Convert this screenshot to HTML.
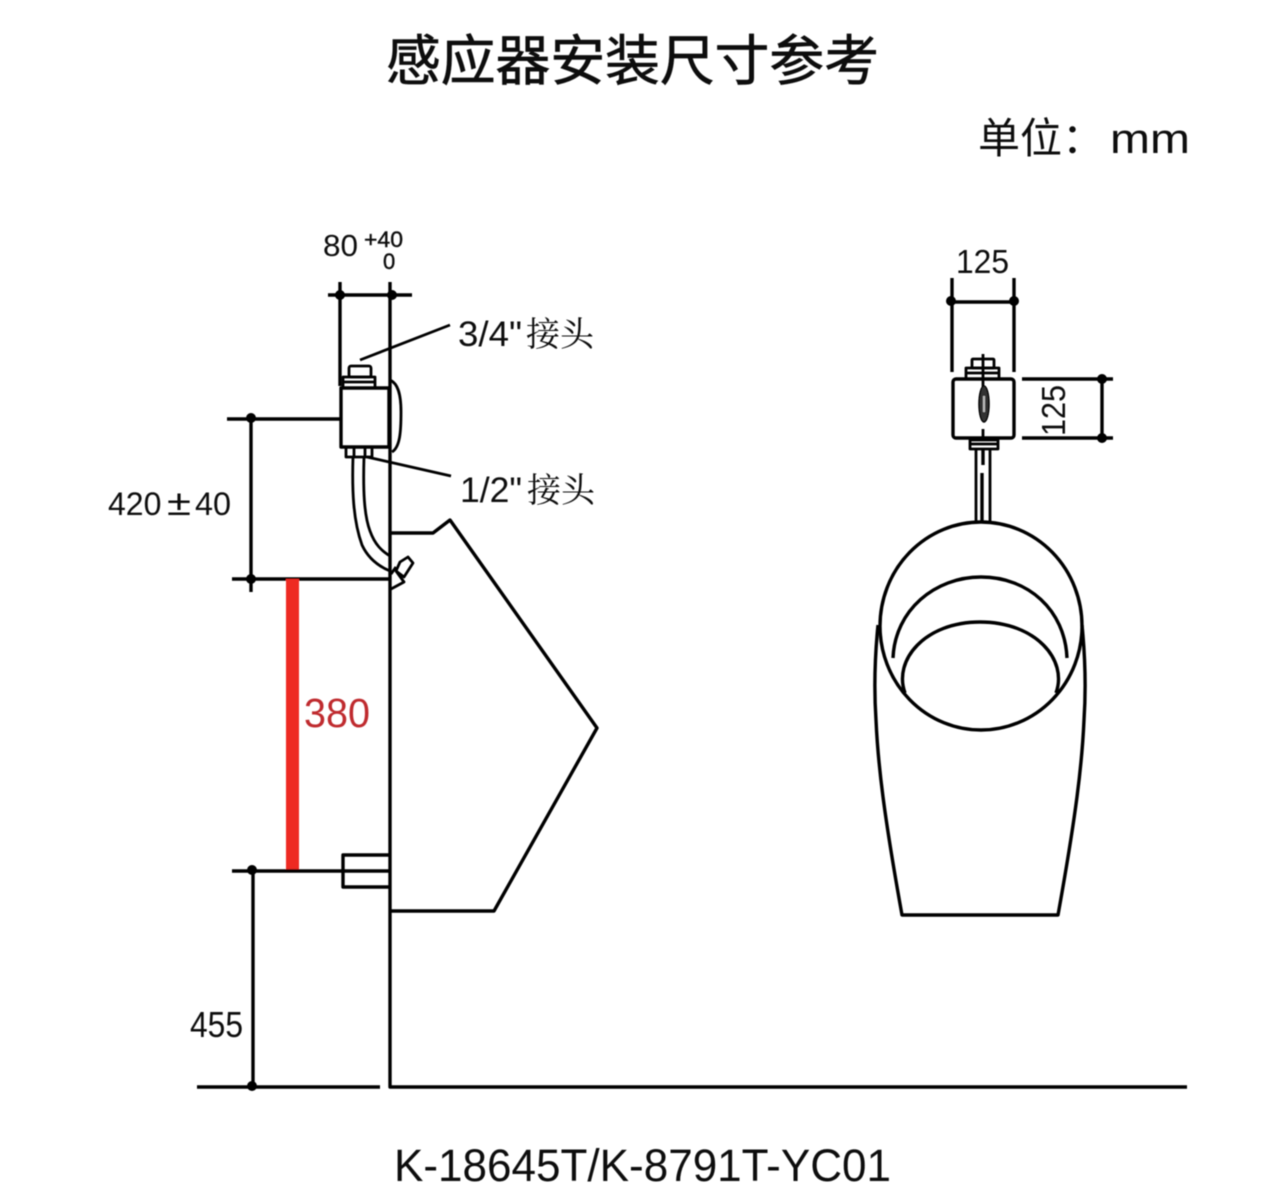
<!DOCTYPE html>
<html lang="zh">
<head>
<meta charset="utf-8">
<title>感应器安装尺寸参考</title>
<style>
html,body{margin:0;padding:0;background:#fff;width:1284px;height:1196px;overflow:hidden}
svg{display:block}
text{font-family:"Liberation Sans","Noto Sans CJK SC",sans-serif;fill:#111}
.l{fill:none;stroke:#050505;stroke-width:3.4;stroke-linecap:butt;stroke-linejoin:round}
.t{fill:none;stroke:#050505;stroke-width:2.8;stroke-linejoin:round}
.s{font-family:"Liberation Serif","Noto Serif CJK SC",serif}
</style>
</head>
<body>
<svg width="1284" height="1196" viewBox="0 0 1284 1196" xmlns="http://www.w3.org/2000/svg">
<defs><filter id="b" x="-2%" y="-2%" width="104%" height="104%"><feGaussianBlur stdDeviation="0.45"/></filter></defs>
<rect width="1284" height="1196" fill="#fff"/>
<g filter="url(#b)">
<!-- headings -->
<text x="386" y="80" font-size="54.5" textLength="493" lengthAdjust="spacingAndGlyphs" style="stroke:#111;stroke-width:.7">感应器安装尺寸参考</text>
<text x="978" y="153" font-size="42">单位：</text>
<text x="1110" y="153" font-size="42" textLength="80" lengthAdjust="spacingAndGlyphs">mm</text>
<text x="394" y="1181" font-size="45" textLength="497" lengthAdjust="spacingAndGlyphs">K-18645T/K-8791T-YC01</text>

<!-- wall and floor -->
<path class="l" d="M390 282V1087H1187"/>
<path class="l" d="M197 1087H380"/>

<!-- top dim 80 -->
<path class="l" d="M328 295H412M340 282V386"/>
<circle cx="340" cy="295" r="5" fill="#050505"/><circle cx="392" cy="295" r="5" fill="#050505"/>
<text x="323" y="256" font-size="31" textLength="35" lengthAdjust="spacingAndGlyphs">80</text>
<text x="364" y="247" font-size="22" textLength="39" lengthAdjust="spacingAndGlyphs" style="stroke:#111;stroke-width:.4">+40</text>
<text x="383" y="269" font-size="22" style="stroke:#111;stroke-width:.4">0</text>

<!-- leaders and labels -->
<path class="t" d="M360 360L450 325M367 457L451 476"/>
<text x="458" y="346" font-size="35" textLength="64" lengthAdjust="spacingAndGlyphs">3/4"</text>
<text class="s" x="526" y="346" font-size="34" textLength="68" lengthAdjust="spacingAndGlyphs">接头</text>
<text x="460" y="502" font-size="35" textLength="62" lengthAdjust="spacingAndGlyphs">1/2"</text>
<text class="s" x="527" y="502" font-size="34" textLength="68" lengthAdjust="spacingAndGlyphs">接头</text>

<!-- sensor side -->
<rect class="l" x="341" y="388" width="48" height="59"/>
<rect class="t" x="343" y="377" width="32" height="11"/>
<path class="t" d="M343 382H375"/>
<rect class="t" x="349" y="366" width="22" height="11" rx="2"/>
<path class="t" d="M390 380C397 383 401 392 401 412C401 432 400 447 392 452"/>
<path class="t" d="M346 447V457H372V447M354 447V457M365 447V457"/>
<path class="t" d="M353 457C352 490 353 520 362 545C368 558 378 566 390 571"/>
<path class="t" d="M364 457C363 490 364 515 370 531C375 545 382 551 390 556"/>
<!-- outlet -->
<path class="t" d="M400 562L408 557L413 563L404 577L396 571Z"/>
<path class="t" d="M391 574L396 567M396 571L404 582L391 589"/>

<!-- dim 420 -->
<path class="l" d="M227 419H341M232 579H390M251 419V592"/>
<circle cx="251" cy="418" r="5" fill="#050505"/><circle cx="251" cy="579" r="5" fill="#050505"/>
<text x="108" y="515" font-size="32">420</text>
<text x="167" y="515" font-size="36" textLength="24" lengthAdjust="spacingAndGlyphs">±</text>
<text x="195" y="515" font-size="32" textLength="36" lengthAdjust="spacingAndGlyphs">40</text>

<!-- urinal side -->
<path class="l" d="M390 533H433L450 520L597 728L494 911H390"/>

<!-- red bar -->
<rect x="286" y="579" width="13" height="292" fill="#ee2a20"/>
<text x="304" y="727" font-size="41" style="fill:#bf2a2e" textLength="66" lengthAdjust="spacingAndGlyphs">380</text>

<!-- lower fixture -->
<path class="l" d="M232 871H390M253 871V1087"/>
<path class="l" d="M390 855H343V887H390"/>
<circle cx="252" cy="870" r="5" fill="#050505"/><circle cx="252" cy="1086" r="5" fill="#050505"/>
<text x="190" y="1037" font-size="36" textLength="53" lengthAdjust="spacingAndGlyphs">455</text>

<!-- front dims -->
<path class="l" d="M952 278V372M1014 278V372M952 302H1014"/>
<circle cx="951" cy="301" r="5" fill="#050505"/><circle cx="1014" cy="301" r="5" fill="#050505"/>
<text x="956" y="273" font-size="33" textLength="53" lengthAdjust="spacingAndGlyphs">125</text>
<path class="l" d="M1022 379H1113M1022 438H1113M1102 379V438"/>
<circle cx="1102" cy="379" r="5" fill="#050505"/><circle cx="1102" cy="438" r="5" fill="#050505"/>
<text transform="translate(1065 436) rotate(-90)" font-size="33" textLength="51" lengthAdjust="spacingAndGlyphs">125</text>

<!-- front sensor -->
<rect class="l" x="953" y="379" width="61" height="59" rx="3"/>
<rect class="t" x="966" y="368" width="33" height="11"/>
<path class="t" d="M966 373H999"/>
<rect class="t" x="972" y="359" width="22" height="9" rx="1"/>
<path class="t" d="M983 354V388M983 429V438"/>
<ellipse cx="984" cy="404" rx="5" ry="18" fill="#333" stroke="#050505" stroke-width="1.5"/>
<path fill="#bbb" d="M983 396h2v16h-2z"/>
<rect class="t" x="970" y="440" width="28" height="9"/>
<path class="t" d="M970 444H998"/>
<path class="t" d="M976 449V522M990 449V522"/>
<path class="l" d="M983 449V465M982 473V522"/>

<!-- front urinal -->
<ellipse class="l" cx="981" cy="626" rx="101" ry="104"/>
<path class="l" d="M893 658C895 610 935 577 981 577C1028 577 1065 610 1067 658"/>
<path class="l" d="M905 693C893 660 925 622 980 622C1036 622 1068 660 1056 693"/>
<path class="l" d="M878 625C875 655 874 690 876 720C878 765 884 815 902 915H1058C1076 815 1082 765 1084 720C1086 690 1085 655 1082 625"/>
</g>
</svg>
</body>
</html>
